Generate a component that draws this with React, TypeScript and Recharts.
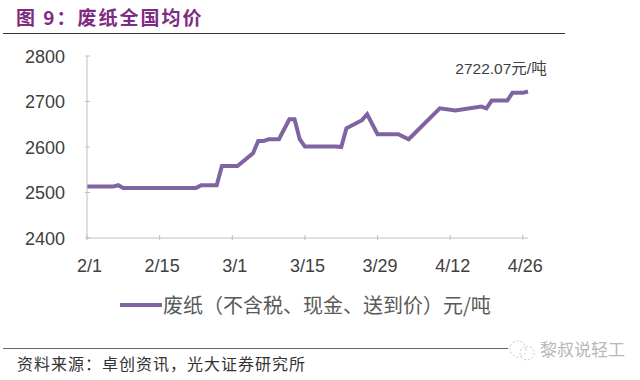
import React from 'react'
import { LineChart, Line, XAxis, YAxis } from 'recharts'

// day offset from 2/1 and national average waste-paper price (yuan/ton)
const days = [0, 5, 6, 7, 21, 22, 25, 26, 29, 32, 33, 34, 35, 37, 39, 40, 41, 42, 48, 49, 50, 53, 54, 56, 60, 62, 68, 71, 76, 77, 78, 81, 82, 84, 85]
const prices = [2513, 2513, 2516, 2510, 2510, 2516, 2516, 2558, 2558, 2586, 2613, 2613, 2617, 2617, 2661, 2661, 2617, 2601, 2601, 2600, 2641, 2659, 2672, 2628, 2628, 2617, 2685, 2680, 2689, 2685, 2702, 2702, 2719, 2719, 2722.07]

const xTicks = [0, 14, 28, 42, 56, 70, 84]
const xLabels = ['2/1', '2/15', '3/1', '3/15', '3/29', '4/12', '4/26']
const yTicks = [2400, 2500, 2600, 2700, 2800]

const seriesName = '废纸（不含税、现金、送到价）元/吨'
const lineColor = '#8064a2'
const axisColor = '#bfbfbf'
const latin = '"Liberation Sans", Arial, "Noto Sans CJK SC", sans-serif'
const cjk = '"Noto Sans CJK SC", sans-serif'

const data = days.map((d, i) => ({ day: d, price: prices[i] }))

const YTick = (props: any) => {
  const { x, y, payload } = props
  return (
    <g>
      <line x1={x} y1={y} x2={x + 5} y2={y} stroke={axisColor} />
      <text x={x - 20} y={y + 6.5} textAnchor="end" fontSize={18} fill="#404040" fontFamily={latin}>
        {payload.value}
      </text>
    </g>
  )
}

const XTick = (props: any) => {
  const { x, y, payload } = props
  const idx = xTicks.indexOf(payload.value)
  return (
    <g>
      <line x1={x} y1={y} x2={x} y2={y - 5} stroke={axisColor} />
      <text x={x + 2.5} y={y + 32} textAnchor="middle" fontSize={18} fill="#404040" fontFamily={latin}>
        {idx >= 0 ? xLabels[idx] : ''}
      </text>
    </g>
  )
}

const LastLabel = (props: any) => {
  const { x, y, index } = props
  if (index !== data.length - 1) return null
  return (
    <text x={x - 27} y={y - 17} textAnchor="middle" fontSize={15.5} fill="#404040" fontFamily={latin}>
      {prices[index].toFixed(2)}元/吨
    </text>
  )
}

export default function App() {
  return (
    <div style={{ position: 'absolute', left: 0, top: 0, width: 640, height: 380, background: '#fff', overflow: 'hidden' }}>
      <div style={{ position: 'absolute', left: 16, top: 3, fontFamily: cjk, fontSize: 19, fontWeight: 700, color: '#7d2c82', letterSpacing: 2, lineHeight: '28px' }}>
        图 9：废纸全国均价
      </div>
      <div style={{ position: 'absolute', left: 3, top: 33, width: 562, height: 1, background: '#333' }} />

      <LineChart width={640} height={380} data={data} margin={{ top: 56, right: 112, bottom: 112, left: 27 }}>
        <XAxis
          dataKey="day"
          type="number"
          domain={[0, 85]}
          ticks={xTicks}
          tick={<XTick />}
          tickSize={0}
          tickLine={false}
          stroke={axisColor}
          height={30}
        />
        <YAxis
          type="number"
          domain={[2400, 2800]}
          ticks={yTicks}
          tick={<YTick />}
          tickSize={0}
          tickLine={false}
          stroke={axisColor}
          width={60}
        />
        <Line
          type="linear"
          dataKey="price"
          name={seriesName}
          stroke={lineColor}
          strokeWidth={4}
          dot={false}
          label={<LastLabel />}
          isAnimationActive={false}
        />
      </LineChart>

      <div style={{ position: 'absolute', left: 120, top: 290, display: 'flex', alignItems: 'center', fontFamily: cjk, fontSize: 20, color: '#595959', lineHeight: '30px', whiteSpace: 'nowrap' }}>
        <span style={{ display: 'inline-block', width: 42, height: 4, background: lineColor, marginRight: 1 }} />
        <span>{seriesName}</span>
      </div>

      <div style={{ position: 'absolute', left: 3, top: 348, width: 505, height: 1, background: '#666' }} />
      <div style={{ position: 'absolute', left: 17, top: 351, fontFamily: cjk, fontSize: 16, color: '#333', letterSpacing: 1, lineHeight: '24px', whiteSpace: 'nowrap' }}>
        资料来源：卓创资讯，光大证券研究所
      </div>
      <svg style={{ position: 'absolute', left: 507, top: 338 }} width={32} height={26}>
        <circle cx={11} cy={11} r={8} fill="none" stroke="#c8c8c8" strokeDasharray="2 2" />
        <circle cx={20} cy={15} r={7} fill="none" stroke="#c8c8c8" strokeDasharray="2 2" />
      </svg>
      <div style={{ position: 'absolute', left: 540, top: 337, fontFamily: cjk, fontSize: 17, color: '#b8b8b8', lineHeight: '24px', whiteSpace: 'nowrap' }}>
        黎叔说轻工
      </div>
    </div>
  )
}
